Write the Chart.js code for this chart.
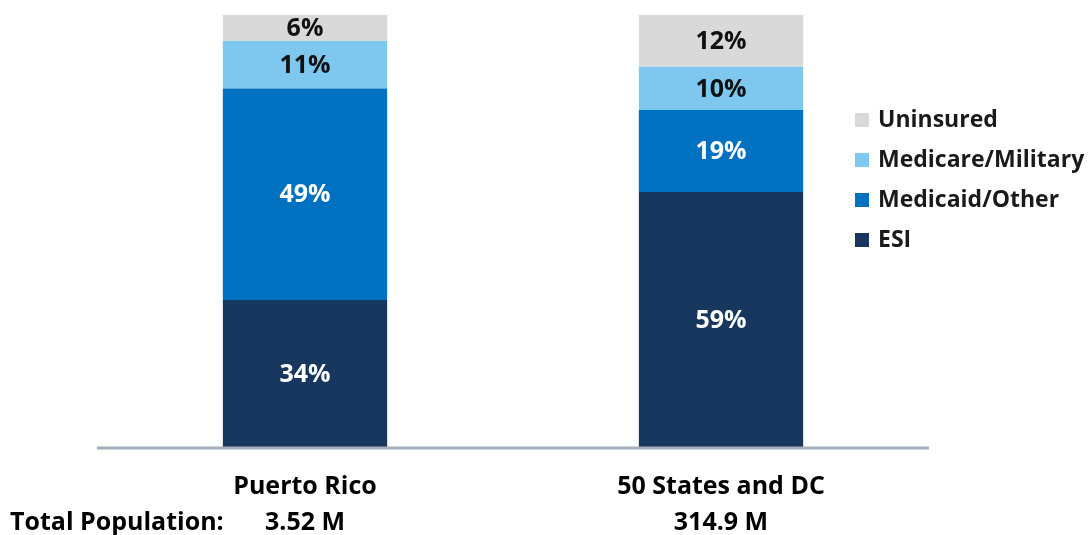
<!DOCTYPE html>
<html>
<head>
<meta charset="utf-8">
<script src="https://cdn.jsdelivr.net/npm/chart.js@4/dist/chart.umd.min.js"></script>
<style>
    html, body { margin: 0; padding: 0; background: #fff; }
    #wrap { position: relative; width: 1091px; height: 535px; }
</style>
</head>
<body>
<div id="wrap"><canvas id="chartCobertura" width="1091" height="535"></canvas></div>
<script>
    const categories = ['Puerto Rico', '50 States and DC'];
    const populations = ['3.52 M', '314.9 M'];
    const esi = [34, 59];
    const medicaid = [49, 19];
    const medicare = [11, 10];
    const uninsured = [6, 12];

    const FONT = '"Open Sans", Lato, sans-serif';

    // etiquetas de porcentaje dentro de cada segmento
    const segmentLabels = {
        id: 'segmentLabels',
        afterDatasetsDraw(chart) {
            const ctx = chart.ctx;
            ctx.save();
            ctx.font = 'bold 25px ' + FONT;
            ctx.textAlign = 'center';
            ctx.textBaseline = 'middle';
            chart.data.datasets.forEach((ds, i) => {
                chart.getDatasetMeta(i).data.forEach((bar, j) => {
                    const mid = (bar.y + bar.base) / 2;
                    ctx.fillStyle = ds.labelColor;
                    ctx.fillText(ds.data[j] + '%', bar.x, mid + 1);
                });
            });
            ctx.restore();
        }
    };

    // leyenda a la derecha y texto de población
    const sideLegend = {
        id: 'sideLegend',
        afterDraw(chart) {
            const ctx = chart.ctx;
            ctx.save();
            ctx.font = 'bold 23px ' + FONT;
            ctx.textBaseline = 'middle';
            ctx.textAlign = 'left';
            const items = chart.data.datasets.slice().reverse();
            items.forEach((ds, i) => {
                const y = 120 + i * 40;
                ctx.fillStyle = ds.backgroundColor;
                ctx.fillRect(855, y - 7, 14, 14);
                ctx.fillStyle = '#1a1a1a';
                ctx.fillText(ds.label, 878, y);
            });

            ctx.font = 'bold 25px ' + FONT;
            ctx.fillStyle = '#000';
            ctx.textBaseline = 'alphabetic';
            ctx.fillText('Total Population:', 10, 530);
            const xs = chart.scales.x;
            ctx.textAlign = 'center';
            populations.forEach((p, i) => {
                ctx.fillText(p, xs.getPixelForValue(i), 530);
            });

            // línea del eje
            ctx.strokeStyle = '#a3adba';
            ctx.lineWidth = 3;
            ctx.beginPath();
            ctx.moveTo(chart.chartArea.left, chart.chartArea.bottom + 1);
            ctx.lineTo(chart.chartArea.right, chart.chartArea.bottom + 1);
            ctx.stroke();
            ctx.restore();
        }
    };

    new Chart(document.getElementById('chartCobertura'), {
        type: 'bar',
        data: {
            labels: categories,
            datasets: [{
                label: 'ESI',
                data: esi,
                backgroundColor: '#17375e',
                labelColor: '#fff',
            }, {
                label: 'Medicaid/Other',
                data: medicaid,
                backgroundColor: '#0070c0',
                labelColor: '#fff',
            }, {
                label: 'Medicare/Military',
                data: medicare,
                backgroundColor: '#7ec8ef',
                labelColor: '#111',
            }, {
                label: 'Uninsured',
                data: uninsured,
                backgroundColor: '#d9d9d9',
                labelColor: '#111',
            }]
        },
        options: {
            responsive: false,
            animation: false,
            barPercentage: 0.79,
            categoryPercentage: 0.5,
            layout: { padding: { left: 97, right: 162, top: 15, bottom: 16 } },
            plugins: {
                legend: { display: false },
                tooltip: { enabled: false },
            },
            scales: {
                x: {
                    stacked: true,
                    grid: { display: false },
                    border: { display: false },
                    ticks: {
                        color: '#000',
                        font: { family: FONT, size: 25, weight: 'bold' },
                        padding: 17,
                    },
                },
                y: {
                    stacked: true,
                    display: false,
                    min: 0,
                    max: 100,
                }
            }
        },
        plugins: [segmentLabels, sideLegend]
    });
</script>
</body>
</html>
